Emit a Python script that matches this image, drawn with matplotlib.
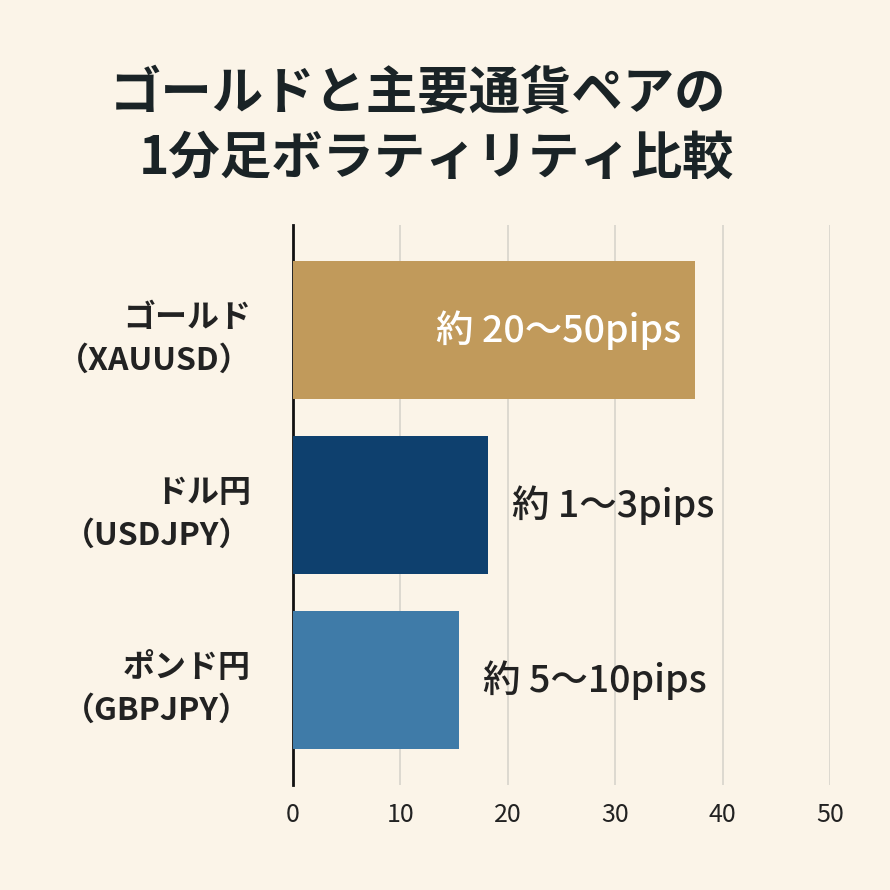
import matplotlib
matplotlib.use("Agg")
import matplotlib.pyplot as plt

categories = ["ゴールド\n（XAUUSD）", "ドル円\n（USDJPY）", "ポンド円\n（GBPJPY）"]
values = [37.4, 18.2, 15.5]
labels = ["約 20〜50pips", "約 1〜3pips", "約 5〜10pips"]
colors = ["#C19A5B", "#0E406E", "#3F7BA8"]
xticks = [0, 10, 20, 30, 40, 50]

bg = "#FBF4E8"
plt.rcParams["font.family"] = "Noto Sans CJK JP"
fig = plt.figure(figsize=(8.9, 8.9), dpi=100, facecolor=bg)
ax = fig.add_axes([0.329, 0.118, 0.604, 0.629], facecolor=bg)

ypos = list(range(len(categories)))
ax.barh(ypos, values, height=0.79, color=colors, zorder=3)
ax.set_ylim(2.6, -0.6)
ax.set_xlim(0, 50)
ax.set_xticks(xticks)
ax.set_xticklabels([str(t) for t in xticks], fontsize=18, color="#222")
ax.tick_params(axis="x", length=0, pad=12)
ax.set_yticks(ypos)
ax.set_yticklabels(categories, fontsize=23, fontweight="bold", color="#222", linespacing=1.45)
ax.tick_params(axis="y", length=0, pad=30)
ax.grid(axis="x", color="#D8D4CC", linewidth=1.2, zorder=0)
for s in ["top", "right", "bottom"]:
    ax.spines[s].set_visible(False)
ax.spines["left"].set_linewidth(2)
ax.spines["left"].set_color("#111")

for i, (v, lab) in enumerate(zip(values, labels)):
    if i == 0:
        ax.text(v - 1.3, i, lab, ha="right", va="center", fontsize=27, color="white", fontweight="medium", zorder=4)
    else:
        ax.text(v + 2.2, i, lab, ha="left", va="center", fontsize=27, color="#222", fontweight="medium", zorder=4)

fig.text(0.47, 0.895, "ゴールドと主要通貨ペアの", ha="center", va="center", fontsize=37, fontweight="bold", color="#1a2326")
fig.text(0.49, 0.822, "1分足ボラティリティ比較", ha="center", va="center", fontsize=37, fontweight="bold", color="#1a2326")

fig.savefig("out.png", dpi=100, facecolor=bg)
